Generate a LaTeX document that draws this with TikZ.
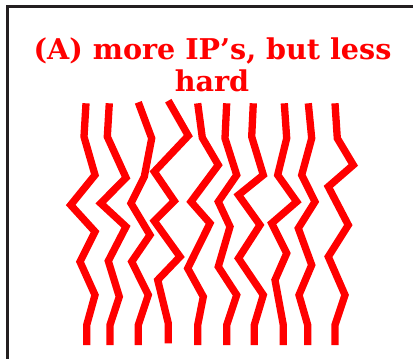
\documentclass[tikz,border=0pt]{standalone}
\usepackage{fontspec}
\setmainfont{DejaVu Serif}
\begin{document}
\begin{tikzpicture}[x=1pt,y=-1pt,
  strand/.style={draw=red, line width=7.3pt, line join=miter, line cap=butt},
  frame/.style={draw={rgb,255:red,35;green,31;blue,32}, line width=2.6pt},
  title/.style={text=red, inner sep=0pt, anchor=base, font=\fontsize{28.6}{32}\selectfont\bfseries}]
\useasboundingbox (0,0) rectangle (413,359);
\draw[frame] (7.3,362) -- (7.3,6.2) -- (416,6.2);
\node[title] (t1) at (212.5,59) {(A) more IP’s, but less};
\node[title] (t2) at (212,91) {hard};
% strands
\draw[strand] (86,103.3) -- (84,136.7) -- (95,175) -- (70.7,205) -- (95,231.7) -- (80,261.7) -- (95,295) -- (86.7,325) -- (86.7,345);
\draw[strand] (109.3,103.3) -- (107.3,136.7) -- (126,177.7) -- (100.7,203.3) -- (126,226.7) -- (108.3,261) -- (119.3,296.7) -- (110,325) -- (110,345);
\draw[strand] (138.3,102.3) -- (151.7,138.3) -- (144.3,176.7) -- (131,203.3) -- (150,235) -- (131.7,261.7) -- (148.3,295) -- (138.3,325) -- (138.3,345);
\draw[strand] (168.3,100.7) -- (188.3,135.7) -- (154.3,171.7) -- (174.3,201) -- (154.3,221) -- (180,256.7) -- (157.7,280) -- (168.3,323.3) -- (168.3,343.3);
\draw[strand] (197.7,103.3) -- (202.3,137.7) -- (218.3,165) -- (191,201.7) -- (210,223.3) -- (187.7,268.3) -- (203.3,296.7) -- (197.7,325) -- (197.7,345);
\draw[strand] (226.7,103.3) -- (225,138.3) -- (236.7,175) -- (218.3,201.7) -- (230,226.7) -- (218.3,266.7) -- (236.7,295) -- (226.7,325) -- (226.7,345);
\draw[strand] (253.3,103.3) -- (251.7,136.7) -- (263.3,175) -- (238.5,195) -- (260,225) -- (238.5,258.3) -- (263.3,295) -- (254.3,325) -- (254.3,345);
\draw[strand] (284.3,103.3) -- (286.7,138.3) -- (277.7,175) -- (296.7,201.7) -- (271.7,223.3) -- (286.7,253.3) -- (275,280) -- (283.3,325) -- (283.3,345);
\draw[strand] (308.3,103.3) -- (311.7,138.3) -- (301.7,175) -- (315,201.7) -- (298.3,228.3) -- (311.7,265) -- (299,295) -- (307.7,325) -- (307.7,345);
\draw[strand] (335,103.3) -- (337.3,138.3) -- (353.3,165) -- (328.3,186.7) -- (348.3,225) -- (328.3,256.7) -- (345,295) -- (335,325) -- (335,345);
\end{tikzpicture}
\end{document}
